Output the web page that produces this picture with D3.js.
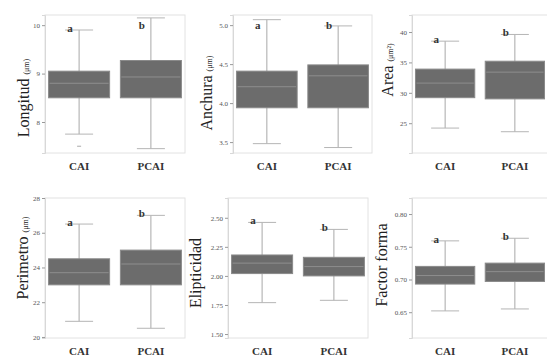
<!DOCTYPE html>
<html>
<head>
<meta charset="utf-8">
<script src="https://cdn.jsdelivr.net/npm/d3@7"></script>
<style>
  body { margin: 0; background: #fff; }
  svg { display: block; font-family: "Liberation Serif", "DejaVu Serif", serif; }
</style>
</head>
<body>
<div id="chart"></div>
<script>
// groups and letters
const groups = ['CAI', 'PCAI']
const letters = ['a', 'b']

// box stats per panel: [low whisker, q1, median, q3, high whisker]
const longitud = [[7.75, 8.5, 8.8, 9.05, 9.9], [7.45, 8.5, 8.93, 9.27, 10.15]]
const anchura = [[3.48, 3.94, 4.21, 4.41, 5.07], [3.43, 3.94, 4.35, 4.49, 4.99]]
const area = [[24.2, 29.2, 31.6, 33.9, 38.5], [23.6, 29.0, 33.4, 35.2, 39.6]]
const perimetro = [[20.9, 23.0, 23.7, 24.5, 26.5], [20.5, 23.0, 24.2, 25.0, 27.0]]
const elipticidad = [[1.77, 2.02, 2.11, 2.18, 2.46], [1.79, 2.0, 2.08, 2.16, 2.40]]
const factorForma = [[0.652, 0.693, 0.706, 0.72, 0.759], [0.655, 0.697, 0.712, 0.725, 0.763]]
const outliersLongitud = [[7.5], []]

// tick labels
const ticksLongitud = [10, 9, 8]
const ticksAnchura = [5.0, 4.5, 4.0, 3.5]
const ticksArea = [40, 35, 30, 25]
const ticksPerimetro = [28, 26, 24, 22, 20]
const ticksElipticidad = [2.5, 2.25, 2.0, 1.75, 1.5]
const ticksFactor = [0.80, 0.75, 0.70, 0.65]

const width = 547, height = 356

const panels = [
  { title: 'Longitud', unit: '(μm)', stats: longitud, outliers: outliersLongitud, ticks: ticksLongitud, fmt: d3.format('d'),
    domain: [7.36, 10.21], x0: 45, x1: 185, y0: 15, y1: 153, lx: 24, ly: 98 },
  { title: 'Anchura', unit: '(μm)', stats: anchura, ticks: ticksAnchura, fmt: d3.format('.1f'),
    domain: [3.36, 5.13], x0: 233, x1: 372, y0: 15, y1: 153, lx: 207, ly: 93 },
  { title: 'Area', unit: '(μm²)', stats: area, ticks: ticksArea, fmt: d3.format('d'),
    domain: [20.1, 42.8], x0: 412, x1: 548, y0: 15, y1: 153, lx: 388, ly: 70 },
  { title: 'Perimetro', unit: '(μm)', stats: perimetro, ticks: ticksPerimetro, fmt: d3.format('d'),
    domain: [19.94, 28], x0: 45, x1: 185, y0: 198, y1: 338, lx: 23, ly: 258 },
  { title: 'Elipticidad', unit: '', stats: elipticidad, ticks: ticksElipticidad, fmt: d3.format('.2f'),
    domain: [1.466, 2.67], x0: 228, x1: 368, y0: 198, y1: 338, lx: 196, ly: 273 },
  { title: 'Factor forma', unit: '', stats: factorForma, ticks: ticksFactor, fmt: d3.format('.2f'),
    domain: [0.6106, 0.8245], x0: 412, x1: 548, y0: 198, y1: 338, lx: 382, ly: 265 }
]

const svg = d3.select('#chart').append('svg')
  .attr('width', width)
  .attr('height', height)

panels.forEach(p => {
  const g = svg.append('g')
  const x = d3.scaleBand().domain(groups).range([p.x0, p.x1]).paddingInner(0.15).paddingOuter(0.05)
  const y = d3.scaleLinear().domain(p.domain).range([p.y1, p.y0])

  // frame
  g.append('rect')
    .attr('x', p.x0).attr('y', p.y0)
    .attr('width', p.x1 - p.x0).attr('height', p.y1 - p.y0)
    .attr('fill', 'none').attr('stroke', '#e2e2e2').attr('stroke-width', 1)

  // y axis
  const yAxis = d3.axisLeft(y).tickValues(p.ticks).tickFormat(p.fmt).tickSize(3).tickPadding(2)
  const ya = g.append('g').attr('transform', 'translate(' + p.x0 + ',0)').call(yAxis)
  ya.select('.domain').attr('stroke', '#d8d8d8')
  ya.selectAll('.tick line').attr('stroke', '#999')
  ya.selectAll('.tick text').attr('font-size', 7).attr('fill', '#555').attr('font-family', 'Liberation Serif, serif')

  // x axis labels
  const xAxis = d3.axisBottom(x).tickSize(0).tickPadding(9)
  const xa = g.append('g').attr('transform', 'translate(0,' + p.y1 + ')').call(xAxis)
  xa.select('.domain').remove()
  xa.selectAll('.tick text').attr('font-size', 11).attr('font-weight', 'bold')
    .attr('fill', '#333').attr('font-family', 'Liberation Serif, serif')

  // y label
  const lab = g.append('text')
    .attr('transform', 'translate(' + (p.lx + 5) + ',' + p.ly + ') rotate(-90)')
    .attr('text-anchor', 'middle')
    .attr('fill', '#222')
  lab.append('tspan').attr('font-size', 16).text(p.title)
  if (p.unit) lab.append('tspan').attr('font-size', 8).attr('dx', 4).text(p.unit)

  // boxes
  p.stats.forEach((s, i) => {
    const cx = x(groups[i]) + x.bandwidth() / 2
    const bw = x.bandwidth()
    // whisker line
    g.append('line')
      .attr('x1', cx).attr('x2', cx)
      .attr('y1', y(s[0])).attr('y2', y(s[4]))
      .attr('stroke', '#a8a8a8').attr('stroke-width', 1)
    // caps
    ;[s[0], s[4]].forEach(v => {
      g.append('line')
        .attr('x1', cx - 14).attr('x2', cx + 14)
        .attr('y1', y(v)).attr('y2', y(v))
        .attr('stroke', '#b5b5b5').attr('stroke-width', 1)
    })
    g.append('rect')
      .attr('x', x(groups[i])).attr('y', y(s[3]))
      .attr('width', bw).attr('height', y(s[1]) - y(s[3]))
      .attr('fill', '#6c6c6c').attr('stroke', '#8a8a8a').attr('stroke-width', 1)
    g.append('line')
      .attr('x1', x(groups[i]) + 1).attr('x2', x(groups[i]) + bw - 1)
      .attr('y1', y(s[2])).attr('y2', y(s[2]))
      .attr('stroke', '#8e8e8e').attr('stroke-width', 1)
    // outliers
    if (p.outliers) {
      p.outliers[i].forEach(v => {
        g.append('line')
          .attr('x1', cx - 2).attr('x2', cx + 2)
          .attr('y1', y(v)).attr('y2', y(v))
          .attr('stroke', '#aaa')
      })
    }
    // significance letter
    g.append('text')
      .attr('x', cx - 9)
      .attr('y', Math.max(p.y0 + 10, y(s[4]) - 2) + 4)
      .attr('text-anchor', 'middle')
      .attr('font-size', 11).attr('font-weight', 'bold')
      .attr('fill', '#333')
      .text(letters[i])
  })
})
</script>
</body>
</html>
